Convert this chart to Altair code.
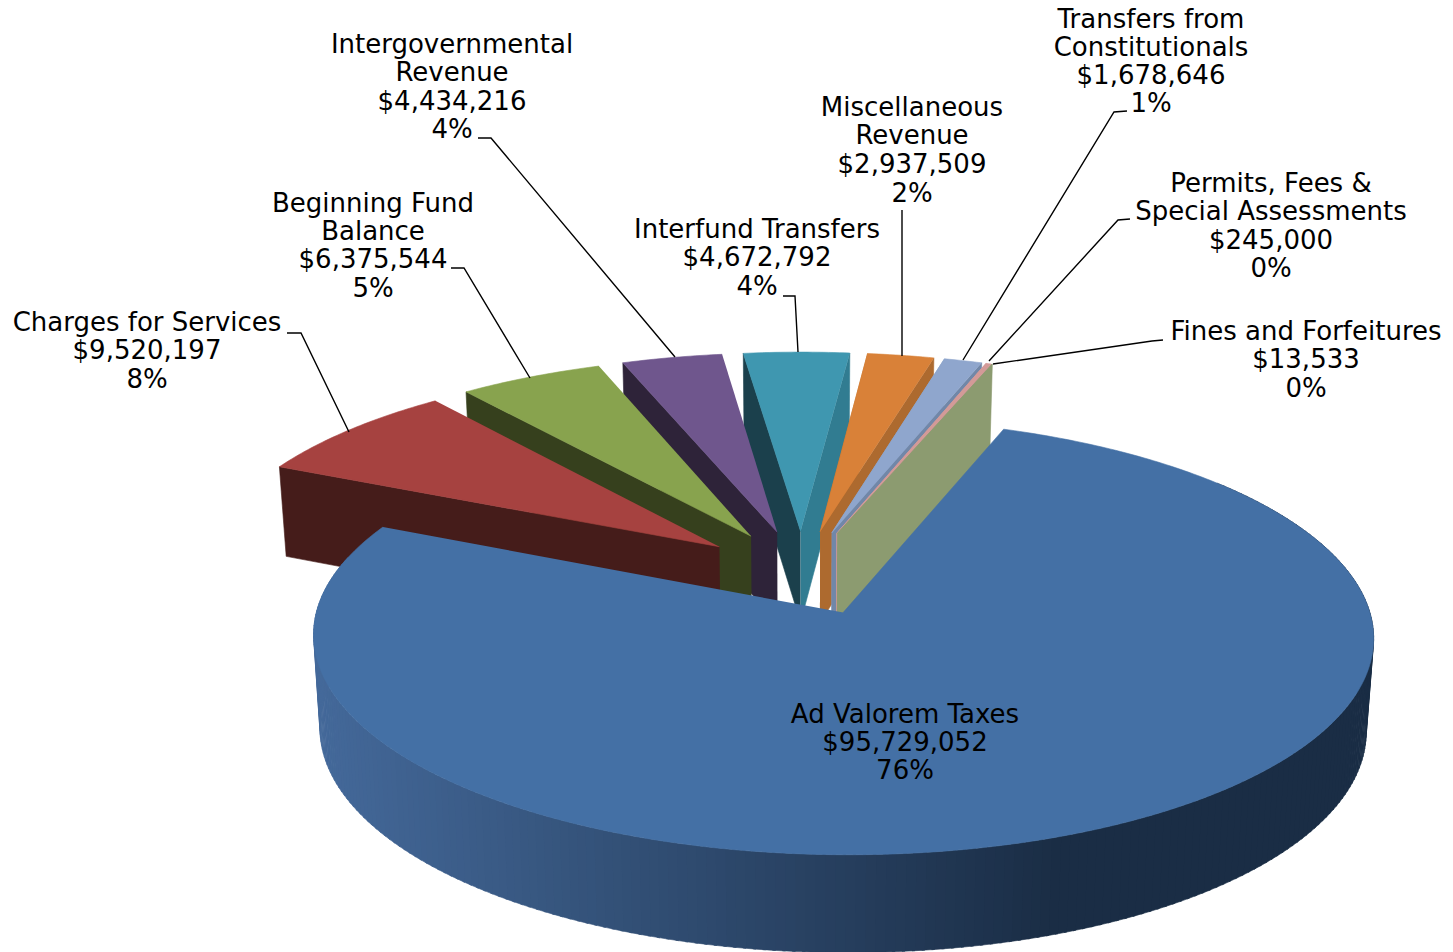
import math
import altair as alt
import pandas as pd

names = ["Ad Valorem Taxes", "Charges for Services", "Beginning Fund Balance", "Intergovernmental Revenue",
         "Interfund Transfers", "Miscellaneous Revenue", "Transfers from Constitutionals",
         "Permits, Fees & Special Assessments", "Fines and Forfeitures"]
values = [95729052, 9520197, 6375544, 4434216, 4672792, 2937509, 1678646, 245000, 13533]
top_colors = ["#4470A5", "#A64240", "#88A34E", "#6F568D", "#3F97B0", "#D98138", "#8FA6CD", "#D39A98", "#8C9B70"]
start_face = [None, "#451C1A", "#36401D", "#2E2339", "#1B404C", "#C07330", "#8FA6CD", "#D39A98", None]
end_face = [None, None, None, None, "#317C91", "#AD6A2F", "#7187A8", "#D39A98", "#8C9B70"]
draw_order = [4, 3, 2, 1, 5, 6, 7, 8, 0]

label_x = [905, 147, 373, 452, 757, 912, 1151, 1271, 1306]
label_lines = [
    ["Ad Valorem Taxes", "$95,729,052", "76%"],
    ["Charges for Services", "$9,520,197", "8%"],
    ["Beginning Fund", "Balance", "$6,375,544", "5%"],
    ["Intergovernmental", "Revenue", "$4,434,216", "4%"],
    ["Interfund Transfers", "$4,672,792", "4%"],
    ["Miscellaneous", "Revenue", "$2,937,509", "2%"],
    ["Transfers from", "Constitutionals", "$1,678,646", "1%"],
    ["Permits, Fees &", "Special Assessments", "$245,000", "0%"],
    ["Fines and Forfeitures", "$13,533", "0%"],
]
label_y = [
    [715, 743, 771], [323, 351, 380], [204, 232, 260, 289], [45, 73, 102, 130], [230, 258, 287],
    [108, 136, 165, 194], [20, 48, 76, 104], [184, 212, 241, 269], [332, 360, 389],
]
leaders = [
    [(287, 333), (301, 333), (349, 432)],
    [(451, 268), (464, 268), (530, 378)],
    [(478, 138), (491, 138), (675, 357)],
    [(783, 296), (795, 296), (798, 352)],
    [(902, 210), (902, 356)],
    [(1127, 111), (1114, 112), (963, 360)],
    [(1130, 219), (1118, 220), (989, 361)],
    [(1163, 340), (1152, 341), (993, 364)],
]

CX, CY, R, S, K, EXPLODE, H, START = 801.5, 572.6, 516, 206.8, 0.108, 0.205, 92, 20.15
SHRINK = 0.013
K_DROP = 0.05
total = sum(values)


def project(u, v, drop=0.0):
    w = 1 + K * v
    x = R * u / w * (1 - SHRINK * drop)
    return CX + x, CY - S * v / w + drop * H / (1 + K_DROP * v)


angles = []
a = START
for val in values:
    b = a + val / total * 360
    angles.append((a, b))
    a = b


def pt(idx, ang, radius=1.0):
    a0, a1 = angles[idx]
    mid = math.radians((a0 + a1) / 2)
    r = math.radians(ang)
    return EXPLODE * math.sin(mid) + radius * math.sin(r), EXPLODE * math.cos(mid) + radius * math.cos(r)


rows = []
pid = [0]


def poly(points, color):
    pid[0] += 1
    for i, (x, y) in enumerate(points):
        rows.append({"id": pid[0], "i": i, "x": x, "y": y, "fill": color})


def mix(c1, c2, t):
    p = [int(c1[j:j + 2], 16) for j in (1, 3, 5)]
    q = [int(c2[j:j + 2], 16) for j in (1, 3, 5)]
    return "#%02x%02x%02x" % tuple(round(p[j] + (q[j] - p[j]) * t) for j in range(3))


def face(idx, ang, color):
    ax = pt(idx, 0, 0)
    ot = pt(idx, ang)
    poly([project(*ax), project(*ot), project(*ot, 1), project(*ax, 1)], color)


for idx in draw_order:
    a0, a1 = angles[idx]
    if idx == 0:
        n = 240
        lo, hi = 50.0, 285.0
        for s in range(n):
            t0 = lo + s * (hi - lo) / n
            t1 = t0 + (hi - lo) / n + 0.3
            strip = [project(*pt(0, t0)), project(*pt(0, t1)), project(*pt(0, t1), 1), project(*pt(0, t0), 1)]
            xm = (strip[0][0] + strip[1][0]) / 2
            f = (1375 - xm) / (1375 - 313)
            poly(strip, mix("#1A2D45", "#44699A", min(1, max(0, (f - 0.3) / 0.7))))
    if start_face[idx]:
        face(idx, a0, start_face[idx])
    if end_face[idx]:
        face(idx, a1, end_face[idx])
    n = max(2, int((a1 - a0) * 1.5))
    arc = [project(*pt(idx, a0 + (a1 - a0) * j / n)) for j in range(n + 1)]
    poly([project(*pt(idx, 0, 0))] + arc, top_colors[idx])

df = pd.DataFrame(rows)
x_enc = alt.X("x:Q", scale=alt.Scale(domain=[8, 1445], nice=False, zero=False), axis=None)
y_enc = alt.Y("y:Q", scale=alt.Scale(domain=[952, 8], nice=False, zero=False), axis=None)

slices = alt.Chart(df).mark_line(filled=True, clip=True, strokeWidth=0.6, strokeJoin="round").encode(
    x=x_enc, y=y_enc, detail="id:N", order="i:Q",
    fill=alt.Fill("fill:N", scale=None), stroke=alt.Stroke("fill:N", scale=None),
)

lead_rows = []
for k, path in enumerate(leaders):
    for i, (x, y) in enumerate(path):
        lead_rows.append({"k": k, "i": i, "x": x, "y": y})
lead = alt.Chart(pd.DataFrame(lead_rows)).mark_line(color="#000000", strokeWidth=1.4).encode(
    x=x_enc, y=y_enc, detail="k:N", order="i:Q")

text_rows = []
for xc, lines, ys in zip(label_x, label_lines, label_y):
    for line, y in zip(lines, ys):
        text_rows.append({"x": xc, "y": y, "t": line})
labels = alt.Chart(pd.DataFrame(text_rows)).mark_text(
    font="DejaVu Sans", fontSize=26, align="center", baseline="middle", color="#000000"
).encode(x=x_enc, y=y_enc, text="t:N")

chart = alt.layer(slices, lead, labels).properties(
    width=1437, height=944, padding=0, autosize=alt.AutoSizeParams(type="none")
).configure_view(stroke=None)
chart.save("out.html", embed_options={"renderer": "svg", "actions": False})
